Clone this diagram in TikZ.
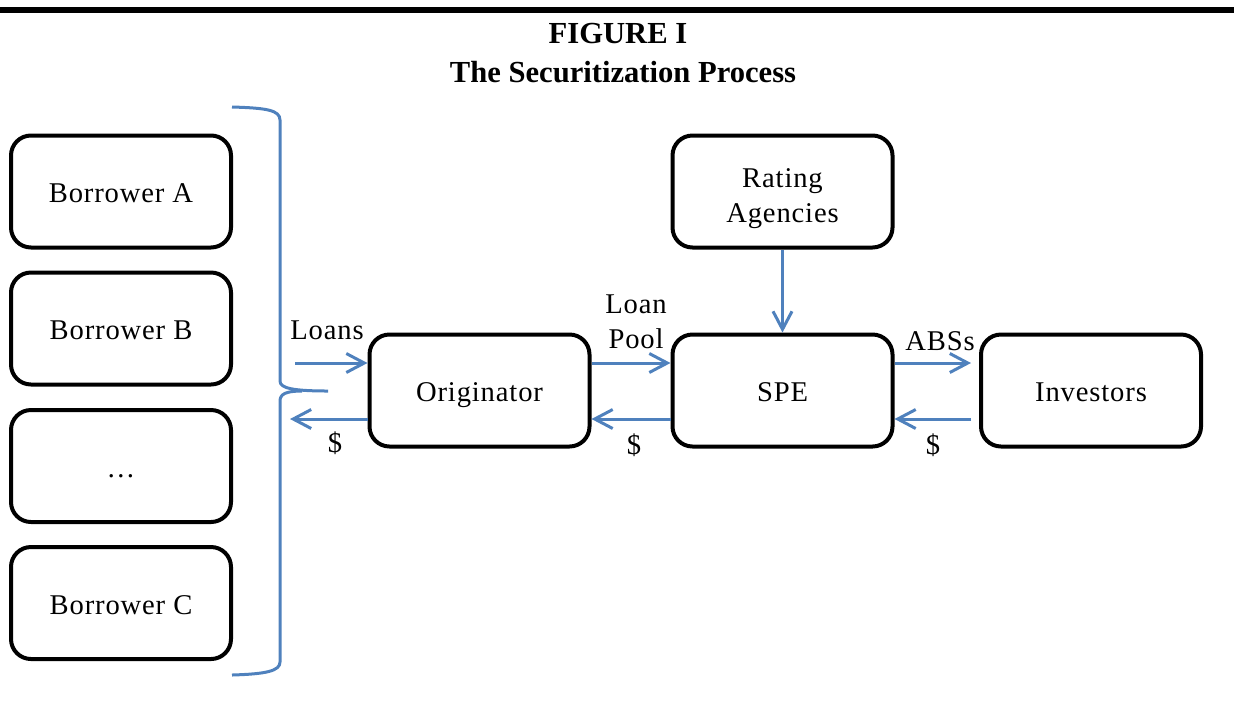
\documentclass[tikz,border=0pt]{standalone}
\usepackage{fontspec}
\setmainfont{Liberation Serif}
\newfontfamily\boxfont[LetterSpace=3]{Liberation Serif}
\usetikzlibrary{arrows.meta}
\definecolor{flowblue}{RGB}{79,129,189}
\begin{document}
\begin{tikzpicture}[x=0.5pt,y=-0.5pt,
  box/.style={draw,line width=2pt,rounded corners=10pt,minimum width=110pt,minimum height=56pt,
    align=center,text height=11.4pt,text depth=0pt,font=\boxfont\fontsize{14.3}{17.5}\selectfont},
  flow/.style={draw=flowblue,line width=1.5pt,-{Straight Barb[length=9pt,width=9.5pt]}},
  lbl/.style={font=\boxfont\fontsize{14.3}{17.5}\selectfont,align=center,inner sep=0pt},
  title/.style={font=\bfseries\fontsize{15.3}{18}\selectfont,inner sep=0pt,anchor=base}]
\useasboundingbox (0,0) rectangle (1234,713);
% kopf: linie und titel
\draw[line width=2.7pt] (0,10) -- (1234,10);
\node[title] (fig) at (618,43) {FIGURE I};
\node[title] (ttl) at (623,82) {The Securitization Process};
% schuldner links
\foreach \nm/\yc/\txt in {bA/191.5/Borrower A, bB/328.5/Borrower B, bdots/466/{\dots}, bC/603/Borrower C}
  \node[box] (\nm) at (121,\yc) {\txt};
% klammer
\draw[flowblue,line width=1.5pt] (232,107) .. controls (266,108) and (280,110) .. (280,120) -- (280,381)
  .. controls (280,388) and (292,391) .. (328,391);
\draw[flowblue,line width=1.5pt] (302,391) .. controls (286,391) and (280,394) .. (280,401) -- (280,662)
  .. controls (280,671) and (266,674) .. (232,675);
% hauptkette
\node[box] (orig) at (479.5,390.5) {Originator};
\node[box] (spe) at (782.5,390.5) {SPE};
\node[box] (inv) at (1091,390.5) {Investors};
\node[box,text height=30.5pt] (rate) at (782.5,191.5) {Rating\\Agencies};
\coordinate (loanin) at (295,363);
\coordinate (payout) at (290,419);
% pfeile
\draw[flow] (loanin) -- ([yshift=13.75pt]orig.west);
\draw[flow] ([yshift=-14.25pt]orig.west) -- (payout);
\draw[flow] ([yshift=13.75pt]orig.east) -- ([yshift=13.75pt]spe.west);
\draw[flow] ([yshift=-14.25pt]spe.west) -- ([yshift=-14.25pt]orig.east);
\draw[flow] ([yshift=13.75pt]spe.east) -- ([xshift=-4pt,yshift=13.75pt]inv.west);
\draw[flow] ([xshift=-4pt,yshift=-14.25pt]inv.west) -- ([yshift=-14.25pt]spe.east);
\draw[flow] (rate) -- (spe);
% beschriftungen
\node[lbl] (lloans) at (327,330) {Loans};
\node[lbl] (ldollA) at (335,443) {\$};
\node[lbl] (lpool) at (636,322) {Loan\\Pool};
\node[lbl] (ldollB) at (634,445) {\$};
\node[lbl] (labs) at (940,341) {ABSs};
\node[lbl] (ldollC) at (933,445) {\$};
\end{tikzpicture}
\end{document}
